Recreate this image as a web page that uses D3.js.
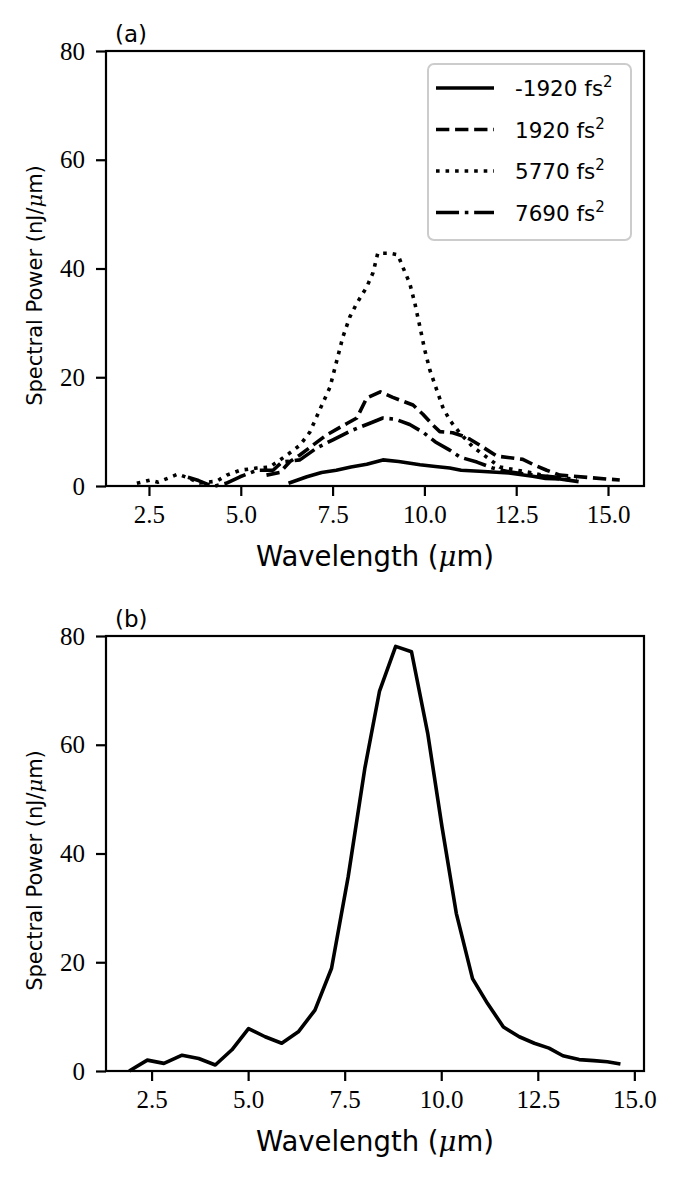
<!DOCTYPE html>
<html lang="en">
  <head>
    <meta charset="UTF-8" />
    <title>Spectral power</title>
    <style>
      body { margin: 0; background: #fff; }
      svg { display: block; }
      .lbl { font-family: "DejaVu Sans", sans-serif; fill: #000; }
      .mu { font-family: "DejaVu Serif", serif; font-style: italic; }
    </style>
  </head>
  <body>
    <svg id="chart"></svg>
    <script src="https://cdnjs.cloudflare.com/ajax/libs/d3/7.4.4/d3.min.js"></script>
    <script>
      // panel (a): one spectrum per GDD value
      const gddLabels = ["-1920", "1920", "5770", "7690"];

      const wlNeg1920 = [6.3, 6.8, 7.2, 7.6, 8.0, 8.43, 8.87, 9.3, 9.88, 10.3, 10.69, 11.0, 11.5, 12.3, 12.95, 13.3, 13.69, 14.2];
      const pwNeg1920 = [0.5, 1.7, 2.5, 2.9, 3.5, 4.0, 4.8, 4.5, 3.9, 3.6, 3.3, 2.9, 2.7, 2.4, 1.8, 1.4, 1.3, 0.8];

      const wl1920 = [5.7, 6.07, 6.34, 6.61, 6.96, 7.34, 7.89, 8.16, 8.43, 8.8, 9.14, 9.69, 9.96, 10.23, 10.42, 10.77, 11.05, 11.24, 11.51, 11.97, 12.68, 12.95, 13.33, 13.69, 14.04, 14.59, 15.32];
      const pw1920 = [2.0, 2.5, 4.5, 5.7, 7.5, 9.4, 11.5, 12.5, 16.2, 17.3, 16.3, 14.9, 13.2, 11.2, 10.0, 9.8, 9.2, 8.6, 7.5, 5.5, 4.9, 4.0, 2.9, 2.0, 1.8, 1.5, 1.1];

      const wl5770 = [2.17, 2.53, 2.75, 3.29, 3.56, 3.89, 4.35, 4.62, 4.98, 5.44, 5.79, 6.07, 6.34, 6.61, 6.88, 7.15, 7.43, 7.62, 7.78, 7.97, 8.16, 8.43, 8.6, 8.73, 9.06, 9.28, 9.41, 9.6, 9.74, 9.88, 10.01, 10.15, 10.34, 10.5, 10.69, 10.97, 11.32, 11.7, 12.05, 12.52, 12.95, 13.5, 14.0];
      const pw5770 = [0.5, 1.1, 0.7, 2.2, 1.5, 0.55, 0.9, 2.0, 2.9, 3.3, 3.5, 4.8, 6.1, 7.5, 9.9, 14.0, 18.2, 23.2, 27.4, 31.1, 33.6, 36.6, 39.2, 42.8, 42.8, 42.5, 40.3, 37.3, 33.6, 29.2, 25.0, 21.3, 17.6, 14.5, 12.1, 9.7, 7.2, 5.3, 3.5, 2.9, 2.4, 1.5, 1.1];

      const wl7690 = [3.56, 3.85, 4.1, 4.3, 4.6, 4.98, 5.44, 5.88, 6.12, 6.61, 7.07, 7.51, 8.05, 8.5, 8.87, 9.2, 9.6, 9.96, 10.3, 10.69, 10.97, 11.43, 11.86, 12.3, 13.0, 13.64, 14.15];
      const pw7690 = [1.6, 1.0, 0.3, 0.0, 0.5, 1.7, 2.9, 2.9, 4.4, 4.8, 7.0, 8.5, 10.3, 11.5, 12.5, 12.3, 11.3, 9.9, 8.1, 6.6, 5.3, 4.4, 3.3, 2.6, 2.0, 1.6, 1.2];

      // panel (b)
      const wlB = [1.92, 2.39, 2.82, 3.29, 3.72, 4.15, 4.58, 5.01, 5.44, 5.87, 6.30, 6.73, 7.16, 7.59, 8.02, 8.40, 8.82, 9.23, 9.65, 10.02, 10.39, 10.81, 11.20, 11.61, 12.02, 12.41, 12.79, 13.15, 13.57, 13.95, 14.30, 14.64];
      const pwB = [0, 2.0, 1.4, 2.9, 2.3, 1.1, 3.9, 7.8, 6.3, 5.1, 7.2, 11.2, 18.9, 35.7, 55.6, 69.8, 78.1, 77.1, 62.1, 44.9, 29.0, 17.0, 12.4, 8.1, 6.3, 5.1, 4.2, 2.8, 2.1, 1.9, 1.7, 1.3];

      const xTicks = [2.5, 5.0, 7.5, 10.0, 12.5, 15.0];
      const yTicks = [0, 20, 40, 60, 80];

      const W = 680, H = 1180;
      const svg = d3.select("#chart").attr("width", W).attr("height", H);

      const lw = 3.6;
      const dashes = {
        solid: null,
        dashed: [3.7 * lw, 1.6 * lw],
        dotted: [1 * lw, 1.65 * lw],
        dashdot: [6.4 * lw, 1.6 * lw, 1 * lw, 1.6 * lw],
      };

      const topSeries = [
        { name: gddLabels[0], xs: wlNeg1920, ys: pwNeg1920, style: "solid" },
        { name: gddLabels[1], xs: wl1920, ys: pw1920, style: "dashed" },
        { name: gddLabels[2], xs: wl5770, ys: pw5770, style: "dotted" },
        { name: gddLabels[3], xs: wl7690, ys: pw7690, style: "dashdot" },
      ];

      function styleAxis(a) {
        a.select(".domain").remove();
        a.selectAll(".tick line").attr("stroke", "#000").attr("stroke-width", 2.2);
        a.selectAll(".tick text")
          .attr("fill", "#000")
          .attr("font-family", "'Liberation Serif', serif")
          .attr("font-size", 25);
      }

      function panel(top, xDomain, series, letter) {
        const left = 106, right = 644, h = 435;
        const x = d3.scaleLinear().domain(xDomain).range([left, right]);
        const y = d3.scaleLinear().domain([0, 80]).range([top + h, top]);
        const g = svg.append("g");

        const line = d3.line().x((d) => x(d[0])).y((d) => y(d[1]));
        series.forEach((s) => {
          g.append("path")
            .datum(d3.zip(s.xs, s.ys))
            .attr("d", line)
            .attr("fill", "none")
            .attr("stroke", "#000")
            .attr("stroke-width", lw)
            .attr("stroke-linejoin", "round")
            .attr("stroke-dasharray", dashes[s.style] ? dashes[s.style].join(",") : null);
        });

        g.append("g")
          .attr("transform", `translate(0,${top + h})`)
          .call(d3.axisBottom(x).tickValues(xTicks).tickFormat(d3.format(".1f")).tickSize(10).tickPadding(9))
          .call(styleAxis);
        g.append("g")
          .attr("transform", `translate(${left},0)`)
          .call(d3.axisLeft(y).tickValues(yTicks).tickFormat(d3.format("d")).tickSize(10).tickPadding(11))
          .call(styleAxis);

        g.append("rect")
          .attr("x", left).attr("y", top)
          .attr("width", right - left).attr("height", h)
          .attr("fill", "none").attr("stroke", "#000").attr("stroke-width", 2.2);

        const xl = g.append("text").attr("class", "lbl")
          .attr("x", (left + right) / 2).attr("y", top + h + 80)
          .attr("text-anchor", "middle").attr("font-size", 27.5);
        xl.append("tspan").text("Wavelength (");
        xl.append("tspan").attr("class", "mu").text("μ");
        xl.append("tspan").text("m)");

        const yl = g.append("text").attr("class", "lbl")
          .attr("transform", `translate(42,${top + h / 2 + 17}) rotate(-90)`)
          .attr("text-anchor", "middle").attr("font-size", 21);
        yl.append("tspan").text("Spectral Power (nJ/");
        yl.append("tspan").attr("class", "mu").text("μ");
        yl.append("tspan").text("m)");

        g.append("text").attr("class", "lbl")
          .attr("x", 115).attr("y", top - 9)
          .attr("font-size", 23).text(letter);

        return { x, y, g };
      }

      const pa = panel(51, [1.33, 15.98], topSeries, "(a)");
      panel(636, [1.32, 15.25], [{ name: "b", xs: wlB, ys: pwB, style: "solid" }], "(b)");

      // legend
      const lg = pa.g.append("g");
      lg.append("rect")
        .attr("x", 428).attr("y", 64).attr("width", 203).attr("height", 176)
        .attr("rx", 6).attr("fill", "#fff").attr("fill-opacity", 0.8)
        .attr("stroke", "#cccccc").attr("stroke-width", 2);
      topSeries.forEach((s, i) => {
        const yy = 88 + i * 41.5;
        lg.append("line")
          .attr("x1", 436).attr("x2", 494).attr("y1", yy).attr("y2", yy)
          .attr("stroke", "#000").attr("stroke-width", lw)
          .attr("stroke-dasharray", dashes[s.style] ? dashes[s.style].join(",") : null);
        const t = lg.append("text").attr("class", "lbl")
          .attr("x", 515).attr("y", yy + 8).attr("font-size", 21.5);
        t.append("tspan").text(s.name + " fs");
        t.append("tspan").attr("font-size", 15).attr("dy", -9).text("2");
      });
    </script>
  </body>
</html>
